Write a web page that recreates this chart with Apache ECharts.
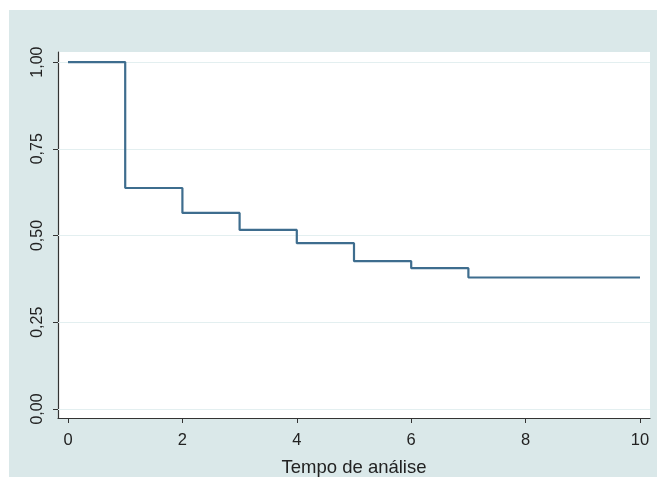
<!DOCTYPE html>
<html><head><meta charset="utf-8">
<script src="https://cdn.jsdelivr.net/npm/echarts@6/dist/echarts.min.js"></script>
<style>html,body{margin:0;padding:0;background:#fff}#c{width:657px;height:477px}</style>
</head><body><div id="c"></div>
<script>
var times = [0, 1, 2, 3, 4, 5, 6, 7, 10];
var survival = [1.00, 0.637, 0.565, 0.516, 0.478, 0.426, 0.406, 0.379, 0.379];
var xTicks = [0, 2, 4, 6, 8, 10];
var yTicks = [0, 0.25, 0.5, 0.75, 1.0];
var xTitle = 'Tempo de análise';

var chart = echarts.init(document.getElementById('c'), null, {renderer: 'canvas'});
var fmt = function (v) { return v.toFixed(2).replace('.', ','); };
chart.setOption({
  animation: false,
  graphic: [{
    type: 'rect', z: -10, silent: true,
    shape: {x: 9, y: 10, width: 648, height: 467},
    style: {fill: '#dae8e9'}
  }],
  grid: {left: 58, top: 52, right: 7, bottom: 59, show: true, backgroundColor: '#ffffff', borderWidth: 0,
         containLabel: false, outerBoundsMode: 'none'},
  xAxis: {
    type: 'value', min: -0.175, max: 10.175,
    name: xTitle, nameLocation: 'middle', nameGap: 40,
    nameTextStyle: {fontFamily: 'Liberation Sans', fontSize: 18.5, color: '#222'},
    axisLine: {show: true, onZero: false, lineStyle: {color: '#333', width: 1.2}},
    axisTick: {show: true, length: 5, customValues: xTicks, lineStyle: {color: '#333'}},
    axisLabel: {customValues: xTicks, fontFamily: 'Liberation Sans', fontSize: 16.5, color: '#222', margin: 14},
    splitLine: {show: false}
  },
  yAxis: {
    type: 'value', min: -0.026, max: 1.029,
    axisLine: {show: true, onZero: false, lineStyle: {color: '#333', width: 1.2}},
    axisTick: {show: true, length: 5, customValues: yTicks, lineStyle: {color: '#333'}},
    axisLabel: {customValues: yTicks, rotate: 90, formatter: fmt, fontFamily: 'Liberation Sans', fontSize: 16, color: '#222', margin: 12},
    splitLine: {show: false}
  },
  series: [{
    type: 'line', step: 'end', symbol: 'none',
    data: times.map(function (t, i) { return [t, survival[i]]; }),
    lineStyle: {color: '#3e6d8e', width: 2.2},
    markLine: {
      silent: true, symbol: 'none', label: {show: false}, z: 1,
      lineStyle: {color: '#e3eff0', width: 1, type: 'solid'},
      data: yTicks.map(function (v) { return {yAxis: v}; })
    }
  }]
});
</script></body></html>
